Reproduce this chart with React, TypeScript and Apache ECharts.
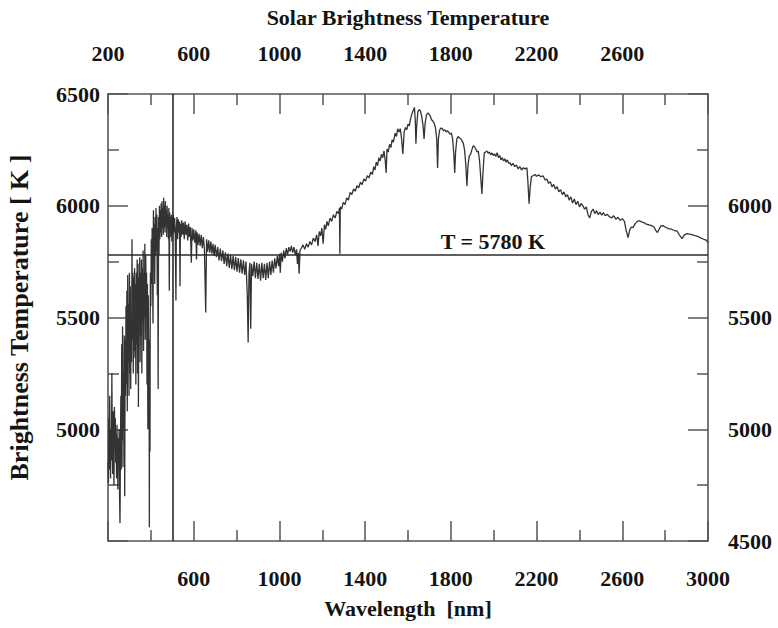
import React, { useEffect, useRef } from "react";
import * as echarts from "echarts";

// Wavelength [nm] / brightness temperature [K]
const uvPoints: [number, number][] = [
  [200, 4850], [202, 4760], [204, 5050], [206, 4820], [208, 5150], [210, 4900], [212, 4780], [214, 5000],
  [216, 4860], [218, 5250], [220, 4950], [222, 4800], [224, 5080], [226, 4900], [228, 4750], [230, 5100],
  [232, 4920], [234, 5050], [236, 4850], [238, 4980], [240, 4780], [242, 5020], [244, 4880], [246, 4730],
  [248, 4960], [250, 4850], [252, 5000], [254, 4700], [256, 4580], [258, 4900], [260, 5150], [262, 4820],
  [264, 5380], [266, 4950], [268, 5460], [270, 4830], [272, 5250], [274, 5050], [276, 5420], [278, 4700],
  [280, 5400], [282, 5150], [284, 5550], [286, 5200], [288, 5620], [290, 5080], [292, 5690], [294, 5300],
  [296, 5560], [298, 5150], [300, 5700], [302, 5250], [304, 5640], [306, 5180], [308, 5500], [310, 5300],
  [312, 5850], [314, 5400], [316, 5700], [318, 5250], [320, 5680], [322, 5350], [324, 5720], [326, 5320],
  [328, 5650], [330, 5200], [332, 5700], [334, 5380], [336, 5760], [338, 5250], [340, 5740], [342, 5100],
  [344, 5680], [346, 5450], [348, 5770], [350, 5300], [352, 5700], [354, 5420], [356, 5760], [358, 5250],
  [360, 5720], [362, 5480], [364, 5800], [366, 5350], [368, 5700], [370, 5500], [372, 5830], [374, 5400],
  [376, 5780], [378, 5550], [380, 5700], [382, 5200], [384, 5650], [386, 5000], [388, 5600], [390, 5300],
  [392, 5150], [393, 4562], [394, 5400], [396, 4900], [397, 5500], [398, 5700], [400, 5550], [402, 5850],
  [404, 5650], [406, 5900], [408, 5700], [410, 5473], [412, 5980], [414, 5750], [416, 5920], [418, 5650],
  [420, 5950], [422, 5780], [424, 5990], [426, 5800], [428, 5960], [430, 5600], [432, 5900], [434, 5180],
  [436, 5950], [438, 5780], [440, 6000], [442, 5850], [444, 5980], [446, 5880], [448, 6010], [450, 5860],
  [452, 6020], [454, 5900], [456, 5990], [458, 5870], [460, 6036], [462, 5900], [464, 6000], [466, 5880],
  [468, 6020], [470, 5910], [472, 5980], [474, 5860], [476, 6000], [478, 5900], [480, 5960], [482, 5850],
  [484, 5990], [486, 5620], [488, 5970], [490, 5880], [492, 5950], [494, 5860], [496, 5960], [498, 5840],
  [500, 5950],
];

const visiblePoints: [number, number][] = [
  [502, 5870], [505, 5960], [508, 5880], [511, 5945], [514, 5860], [517, 5576], [519, 5900], [522, 5950],
  [525, 5850], [528, 5940], [531, 5880], [534, 5930], [536, 5640], [538, 5920], [541, 5860], [544, 5935],
  [548, 5870], [552, 5925], [556, 5850], [560, 5930], [564, 5870], [568, 5915], [572, 5845], [576, 5920],
  [580, 5860], [584, 5905], [589, 5745], [592, 5900], [596, 5845], [600, 5895], [605, 5835], [610, 5890],
  [613, 5760], [616, 5880], [620, 5825], [625, 5875], [630, 5820], [635, 5870], [640, 5810], [645, 5860],
  [650, 5805], [656, 5522], [660, 5850], [665, 5795], [670, 5845], [675, 5790], [680, 5840], [685, 5785],
  [690, 5830], [695, 5775], [700, 5825], [706, 5770], [712, 5815], [718, 5755], [724, 5808], [730, 5752],
  [736, 5800], [742, 5740], [748, 5792], [754, 5730], [760, 5786], [766, 5722], [772, 5780], [778, 5716],
  [784, 5776], [790, 5712], [796, 5770], [802, 5705], [808, 5766], [814, 5700], [820, 5760], [826, 5696],
  [832, 5756], [838, 5690], [844, 5750], [850, 5600], [854, 5388], [858, 5700], [862, 5745], [866, 5450],
  [870, 5740], [876, 5685], [882, 5750], [888, 5676], [894, 5745], [900, 5672], [906, 5740], [912, 5665],
  [918, 5745], [924, 5676], [930, 5740], [936, 5668], [942, 5745], [948, 5676], [954, 5750], [960, 5690],
  [966, 5755], [972, 5700], [978, 5765], [984, 5720], [990, 5775], [996, 5730], [1000, 5785], [1004, 5700],
  [1008, 5790], [1014, 5750], [1020, 5800],
];

const nearIrPoints: [number, number][] = [
  [1026, 5765], [1032, 5810], [1038, 5780], [1044, 5815], [1050, 5795], [1056, 5820], [1062, 5790], [1068, 5815],
  [1074, 5780], [1080, 5805], [1084, 5740], [1088, 5790], [1092, 5696], [1096, 5800], [1102, 5810], [1110, 5825],
  [1118, 5805], [1126, 5830], [1134, 5815], [1142, 5840], [1150, 5825], [1158, 5855], [1166, 5840], [1174, 5870],
  [1180, 5820], [1186, 5885], [1192, 5865], [1198, 5900], [1204, 5830], [1210, 5915], [1216, 5895], [1222, 5930],
  [1228, 5910], [1236, 5945], [1244, 5930], [1252, 5960], [1260, 5945], [1268, 5975], [1276, 5965], [1280, 5990],
  [1282, 5785], [1284, 5995], [1290, 5985], [1298, 6015], [1306, 6005], [1314, 6035], [1322, 6025], [1330, 6060],
  [1338, 6050], [1346, 6075], [1354, 6065], [1362, 6090], [1370, 6080], [1378, 6105], [1386, 6095], [1394, 6120],
  [1402, 6110], [1410, 6135], [1418, 6125], [1426, 6150], [1434, 6140], [1440, 6175], [1446, 6160], [1452, 6195],
  [1458, 6180], [1464, 6215], [1470, 6200], [1476, 6230], [1482, 6215], [1488, 6245], [1494, 6200], [1498, 6147],
  [1502, 6254], [1508, 6240], [1514, 6275], [1520, 6260], [1526, 6295], [1532, 6285], [1540, 6325], [1546, 6310],
  [1552, 6344], [1558, 6330], [1564, 6345], [1570, 6300], [1576, 6232], [1582, 6330], [1588, 6350], [1594, 6340],
  [1600, 6365], [1606, 6357], [1612, 6390], [1618, 6410], [1624, 6425], [1630, 6440], [1634, 6380], [1637, 6277],
  [1640, 6350], [1646, 6420], [1652, 6430], [1658, 6424], [1664, 6400], [1670, 6360], [1675, 6299], [1680, 6370],
  [1686, 6405], [1692, 6415], [1698, 6410], [1704, 6400], [1710, 6385], [1716, 6379], [1722, 6370], [1728, 6350],
  [1734, 6300], [1738, 6169], [1742, 6300], [1748, 6340], [1754, 6348], [1760, 6345], [1766, 6335], [1772, 6340],
  [1778, 6330], [1784, 6336], [1790, 6328], [1796, 6320], [1802, 6326], [1808, 6300], [1814, 6230], [1818, 6147],
  [1822, 6240], [1828, 6300], [1834, 6310], [1840, 6303], [1846, 6300], [1852, 6290], [1858, 6280], [1864, 6250],
  [1870, 6180], [1875, 6089], [1880, 6180], [1886, 6223], [1892, 6230], [1898, 6250], [1904, 6268], [1910, 6265],
  [1916, 6255], [1922, 6240], [1928, 6245], [1934, 6200], [1940, 6120], [1945, 6053], [1950, 6150], [1956, 6237],
];

const irPoints: [number, number][] = [
  [1962, 6240], [1968, 6245], [1974, 6235], [1980, 6240], [1986, 6228], [1992, 6236], [1998, 6225], [2004, 6232],
  [2010, 6220], [2016, 6237], [2022, 6215], [2028, 6225], [2034, 6205], [2040, 6215], [2046, 6200], [2052, 6210],
  [2058, 6195], [2064, 6205], [2070, 6190], [2076, 6192], [2082, 6180], [2090, 6190], [2098, 6175], [2106, 6182],
  [2114, 6165], [2122, 6175], [2130, 6160], [2138, 6170], [2146, 6165], [2155, 6170], [2160, 6100], [2165, 6009],
  [2170, 6080], [2176, 6130], [2183, 6134], [2192, 6140], [2200, 6132], [2210, 6138], [2220, 6130], [2230, 6134],
  [2240, 6115], [2248, 6120], [2256, 6100], [2264, 6108], [2272, 6085], [2280, 6095], [2288, 6075], [2296, 6085],
  [2304, 6062], [2312, 6072], [2320, 6050], [2328, 6062], [2336, 6040], [2344, 6050], [2352, 6025], [2360, 6040],
  [2368, 6012], [2376, 6030], [2384, 6005], [2392, 6020], [2400, 5995], [2408, 6010], [2416, 6000], [2424, 5985],
  [2432, 5995], [2440, 5960], [2448, 5946], [2456, 5975], [2464, 5985], [2472, 5965], [2480, 5978], [2488, 5960],
  [2496, 5972], [2504, 5958], [2512, 5969], [2520, 5955], [2530, 5962], [2540, 5950], [2550, 5946], [2560, 5955],
  [2570, 5940], [2580, 5948], [2590, 5935], [2600, 5942], [2610, 5930], [2618, 5890], [2627, 5857], [2634, 5890],
  [2642, 5905], [2650, 5902], [2660, 5920], [2670, 5930], [2680, 5933], [2690, 5928], [2700, 5925], [2712, 5918],
  [2724, 5915], [2736, 5911], [2748, 5905], [2756, 5890], [2764, 5880], [2772, 5895], [2780, 5910], [2790, 5911],
  [2800, 5905], [2815, 5898], [2830, 5895], [2845, 5888], [2855, 5888], [2866, 5870], [2879, 5853], [2890, 5870],
  [2902, 5875], [2920, 5872], [2940, 5866], [2955, 5862], [2963, 5857], [2980, 5850], [2992, 5846], [3000, 5835],
];

const referenceTemperature = 5780;
const markerWavelength = 500;
const wavelengthTicks = [200, 600, 1000, 1400, 1800, 2200, 2600, 3000];
const temperatureTicks = [4500, 5000, 5500, 6000, 6500];

const FONT = "Liberation Serif";
const AXIS_COLOR = "#555555";
const TEXT_COLOR = "#141414";

export default function App() {
  const ref = useRef<HTMLDivElement>(null);

  useEffect(() => {
    if (!ref.current) return;
    const chart = echarts.init(ref.current, undefined, { renderer: "svg" });
    const spectrum = [...uvPoints, ...visiblePoints, ...nearIrPoints, ...irPoints];
    const xMin = wavelengthTicks[0];
    const xMax = wavelengthTicks[wavelengthTicks.length - 1];
    const yMin = temperatureTicks[0];
    const yMax = temperatureTicks[temperatureTicks.length - 1];

    const labelStyle = {
      fontFamily: FONT,
      fontWeight: "bold" as const,
      fontSize: 22,
      color: TEXT_COLOR,
    };
    const axisCommon = {
      axisLine: { show: true, onZero: false, lineStyle: { color: AXIS_COLOR, width: 1.6 } },
      axisTick: { show: true, inside: true, length: 20, lineStyle: { color: AXIS_COLOR, width: 1.5 } },
      minorTick: { show: true, splitNumber: 2, length: 11, lineStyle: { color: AXIS_COLOR, width: 1.5 } },
      splitLine: { show: false },
      minorSplitLine: { show: false },
    };

    chart.setOption({
      animation: false,
      backgroundColor: "#ffffff",
      grid: {
        left: 108,
        right: 70,
        top: 94,
        bottom: 87,
        containLabel: false,
        outerBoundsMode: "none",
      },
      xAxis: [
        {
          type: "value",
          position: "bottom",
          min: xMin,
          max: xMax,
          interval: 400,
          ...axisCommon,
          axisLabel: {
            ...labelStyle,
            margin: 26,
            showMinLabel: true,
            showMaxLabel: true,
            formatter: (v: number) => (v === xMin ? "" : String(v)),
          },
          name: "Wavelength  [nm]",
          nameLocation: "middle",
          nameGap: 56,
          nameTextStyle: { ...labelStyle },
        },
        {
          type: "value",
          position: "top",
          min: xMin,
          max: xMax,
          interval: 400,
          ...axisCommon,
          axisLabel: {
            ...labelStyle,
            margin: 30,
            showMinLabel: true,
            showMaxLabel: true,
            formatter: (v: number) => (v === xMax ? "" : String(v)),
          },
          name: "Solar Brightness Temperature",
          nameLocation: "middle",
          nameGap: 66,
          nameTextStyle: { ...labelStyle },
        },
      ],
      yAxis: [
        {
          type: "value",
          position: "left",
          min: yMin,
          max: yMax,
          interval: 500,
          ...axisCommon,
          axisLabel: {
            ...labelStyle,
            margin: 8,
            showMinLabel: true,
            showMaxLabel: true,
            formatter: (v: number) => (v === yMin ? "" : String(v)),
          },
          name: "Brightness Temperature [ K ]",
          nameLocation: "middle",
          nameGap: 76,
          nameTextStyle: { ...labelStyle, fontSize: 26 },
        },
        {
          type: "value",
          position: "right",
          min: yMin,
          max: yMax,
          interval: 500,
          ...axisCommon,
          axisLabel: {
            ...labelStyle,
            margin: 20,
            showMinLabel: true,
            showMaxLabel: true,
            formatter: (v: number) => (v === yMax ? "" : String(v)),
          },
        },
      ],
      series: [
        {
          type: "line",
          xAxisIndex: 0,
          yAxisIndex: 0,
          data: spectrum,
          showSymbol: false,
          symbol: "none",
          lineStyle: { color: "#333333", width: 1.3 },
          clip: true,
          silent: true,
          markLine: {
            silent: true,
            symbol: "none",
            label: { show: false },
            lineStyle: { color: "#2a2a2a", width: 1.6, type: "solid" },
            data: [{ yAxis: referenceTemperature }, { xAxis: markerWavelength }],
          },
        },
      ],
      graphic: [
        {
          type: "text",
          x: 493,
          y: 241,
          style: {
            text: `T = ${referenceTemperature} K`,
            fontFamily: FONT,
            fontWeight: "bold",
            fontSize: 22,
            fill: TEXT_COLOR,
            textAlign: "center",
            textVerticalAlign: "middle",
          },
        },
      ],
    });

    return () => chart.dispose();
  }, []);

  return (
    <div
      ref={ref}
      style={{ position: "fixed", left: 0, top: 0, width: 778, height: 628, background: "#fff" }}
    />
  );
}
